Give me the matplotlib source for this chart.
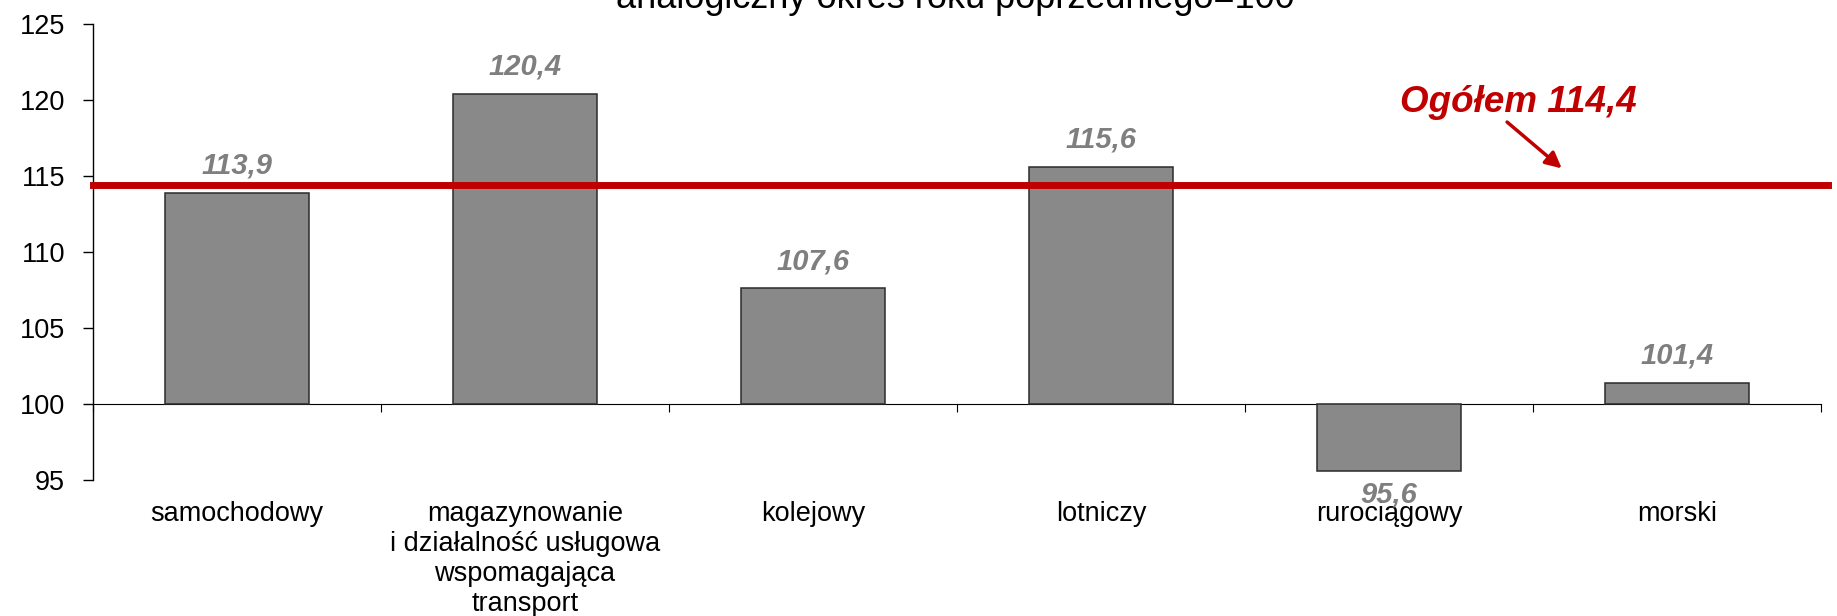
import numpy as np
import matplotlib
matplotlib.use("Agg")
import matplotlib.pyplot as plt

plt.rcParams['font.family'] = ['Liberation Sans', 'DejaVu Sans']

# dynamika wg rodzaju transportu, analogiczny okres roku poprzedniego = 100
categories = ['samochodowy',
              'magazynowanie\ni działalność usługowa\nwspomagająca\ntransport',
              'kolejowy', 'lotniczy', 'rurociągowy', 'morski']
values = [113.9, 120.4, 107.6, 115.6, 95.6, 101.4]
total = 114.4
base = 100

RED = '#C00000'
GREY_TXT = '#7F7F7F'

fig = plt.figure(figsize=(18.37, 6.16), dpi=100)
ax = fig.add_axes([93 / 1837, 1 - 480 / 616, (1821 - 93) / 1837, (480 - 24) / 616])

x = np.arange(len(values))
heights = [v - base for v in values]
ax.bar(x, heights, bottom=base, width=0.5, color='#898989',
       edgecolor='#2b2b2b', linewidth=1.1, zorder=2)

ax.set_xlim(-0.5, len(values) - 0.5)
ax.set_ylim(95, 125)
ax.set_yticks(np.arange(95, 126, 5))
ax.tick_params(axis='y', direction='out', length=7, width=1, pad=13,
               labelsize=19.5)

# category labels under the plot area
ax.set_xticks(x, categories)
ax.tick_params(axis='x', length=0, pad=15, labelsize=19.5)
for lab in ax.get_xticklabels():
    lab.set_linespacing(1.2)
    lab.set_multialignment('center')

for s in ['top', 'right', 'bottom']:
    ax.spines[s].set_visible(False)
ax.spines['left'].set_linewidth(1)

# axis line at the base value with ticks between categories
sec = ax.secondary_xaxis((base - 95) / 30)
sec.set_xticks(np.arange(len(values) + 1) - 0.5)
sec.tick_params(direction='out', length=6, width=0.8, labelbottom=False)
sec.spines['bottom'].set_linewidth(0.8)

# value labels
for xi, v in zip(x, values):
    txt = f'{v:.1f}'.replace('.', ',')
    if v >= base:
        ax.annotate(txt, (xi, v), xytext=(0, 14), textcoords='offset points',
                    ha='center', va='baseline', fontsize=21, fontweight='bold',
                    fontstyle='italic', color=GREY_TXT)
    else:
        ax.annotate(txt, (xi, v), xytext=(0, -7), textcoords='offset points',
                    ha='center', va='top', fontsize=21, fontweight='bold',
                    fontstyle='italic', color=GREY_TXT)

# overall line
ax.axhline(total, xmin=0, xmax=1.004, color=RED, linewidth=5, zorder=3,
           clip_on=False)
ax.text(4.45, 119.2, 'Ogółem ' + f'{total:.1f}'.replace('.', ','),
        ha='center', va='baseline', fontsize=26.5, fontweight='bold',
        fontstyle='italic', color=RED)
ax.annotate('', xy=(4.6, 115.5), xytext=(4.41, 118.55),
            arrowprops=dict(arrowstyle='-|>', color=RED, lw=2.5,
                            mutation_scale=24, shrinkA=0, shrinkB=0))

fig.text(0.52, 1 - 8 / 616, 'analogiczny okres roku poprzedniego=100',
         ha='center', va='baseline', fontsize=26)

fig.savefig('out.png', dpi=100)
